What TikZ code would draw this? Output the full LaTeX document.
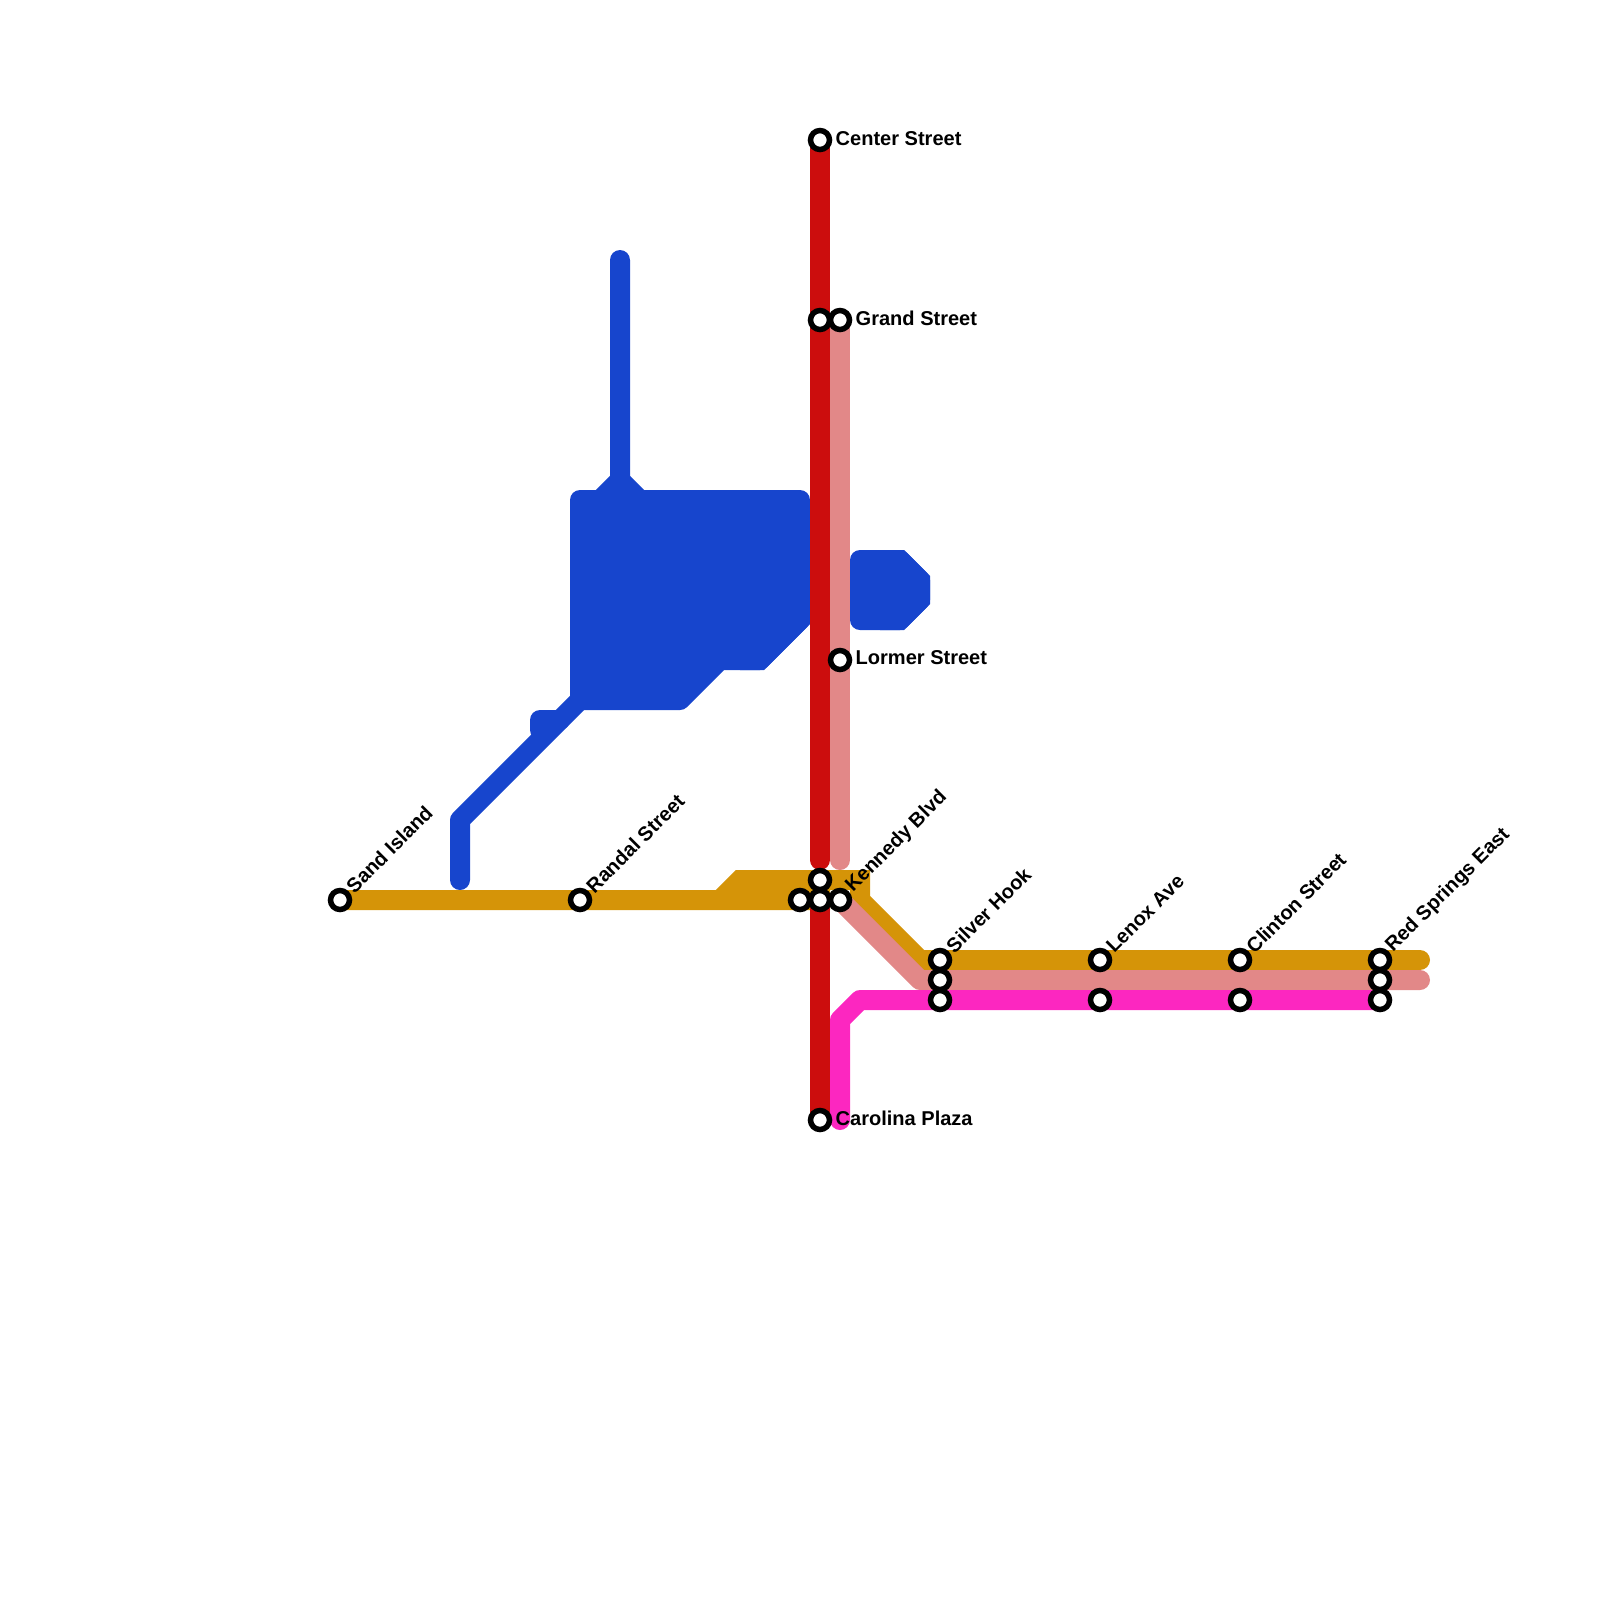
\documentclass[tikz,border=0pt]{standalone}
\usepackage{fontspec}
\setmainfont{Liberation Sans}
\usetikzlibrary{backgrounds}
\definecolor{redline}{HTML}{CC0D0D}
\definecolor{roseline}{HTML}{E28888}
\definecolor{goldline}{HTML}{D59408}
\definecolor{magline}{HTML}{FC27C0}
\definecolor{blueline}{HTML}{1745CD}
\tikzset{
  station/.style={circle,draw=black,fill=white,line width=0.055cm,minimum size=0.19cm,inner sep=0pt},
  stname/.style={font=\fontsize{5.7}{6}\selectfont\bfseries,inner sep=0pt,anchor=west},
  track/.style={line width=0.2cm,line cap=round,line join=round},
  sharp/.style={line width=0.2cm,line cap=butt,line join=miter},
}
\begin{document}
\begin{tikzpicture}[x=0.2cm,y=-0.2cm]
\useasboundingbox (0,0) rectangle (80,80);
% stations
\foreach \n/\x/\y in {centerst/41/7,grandred/41/16,grandst/42/16,lormerst/42/33,
  kennedytop/41/44,kennedyleft/40/45,kennedymid/41/45,kennedyst/42/45,carolina/41/56,
  sandisland/17/45,randalst/29/45,
  silvera/47/48,silverb/47/49,silverc/47/50,lenoxa/55/48,lenoxc/55/50,
  clintona/62/48,clintonc/62/50,springsa/69/48,springsb/69/49,springsc/69/50}{
  \node[station] (\n) at (\x,\y) {};
}
% bends and line ends
\coordinate (goldup) at (36,45);
\coordinate (goldtop) at (37,44);
\coordinate (goldend) at (41,44);
\coordinate (goldcorner) at (43,44);
\coordinate (golddown) at (43,45);
\coordinate (goldbend) at (46,48);
\coordinate (goldstop) at (71,48);
\coordinate (rosebend) at (46,49);
\coordinate (rosestop) at (71,49);
\coordinate (redgap) at (41,43);
\coordinate (rosegap) at (42,43);
\coordinate (magstart) at (42,56);
\coordinate (magup) at (42,51);
\coordinate (magbend) at (43,50);
% labels
\node[stname] (centerlabel) at (41.75,6.95) {Center Street};
\node[stname] (grandlabel) at (42.75,15.9) {Grand Street};
\node[stname] (lormerlabel) at (42.75,32.9) {Lormer Street};
\node[stname] (carolinalabel) at (41.75,55.9) {Carolina Plaza};
\foreach \n/\x/\y/\t in {sandlabel/17.45/44.48/Sand Island,randallabel/29.45/44.48/Randal Street,
  kennedylabel/42.45/44.48/Kennedy Blvd,silverlabel/47.45/47.48/Silver Hook,lenoxlabel/55.45/47.48/Lenox Ave,
  clintonlabel/62.45/47.48/Clinton Street,springslabel/69.45/47.48/Red Springs East}{
  \node[stname,rotate=45] (\n) at (\x,\y) {\t};
}
\begin{scope}[on background layer]
% blue shapes
\draw[track,blueline,fill=blueline] (29,25) -- (40,25) -- (40,31) -- (38,33) -- (36,33) -- (34,35) -- (29,35) -- cycle;
\draw[sharp,blueline] (40,28) -- (40,31) -- (38,33) -- (37,33);
\draw[track,blueline,fill=blueline] (43,28) -- (45,28) -- (46,29) -- (46,30) -- (45,31) -- (43,31) -- cycle;
\draw[sharp,blueline] (44,28) -- (45,28) -- (46,29) -- (46,30) -- (45,31) -- (44,31);
\draw[track,blueline] (31,13) -- (31,24) -- (30,25);
\draw[track,blueline] (31,24) -- (32,25);
\draw[track,blueline] (23,44) -- (23,41) -- (29,35);
\draw[track,blueline] (27,36.5) -- (27,36) -- (28,36);
% gold
\draw[sharp,goldline,fill=goldline] (sandisland.center) -- (goldup) -- (goldtop) -- (goldend) -- (kennedymid.center) -- (goldup);
\draw[sharp,goldline] (goldtop) -- (goldcorner) -- (golddown) -- (goldbend) -- (goldstop);
\draw[track,goldline] (goldbend) -- (goldstop);
% rose
\draw[track,roseline] (grandst.center) -- (rosegap);
\draw[track,roseline] (kennedyst.center) -- (rosebend) -- (rosestop);
% red
\draw[track,redline] (centerst.center) -- (redgap);
\draw[track,redline,line cap=butt] (kennedymid.center) -- (carolina.center);
% magenta
\draw[track,magline] (magstart) -- (magup) -- (magbend) -- (springsc.center);
\end{scope}
\end{tikzpicture}
\end{document}
